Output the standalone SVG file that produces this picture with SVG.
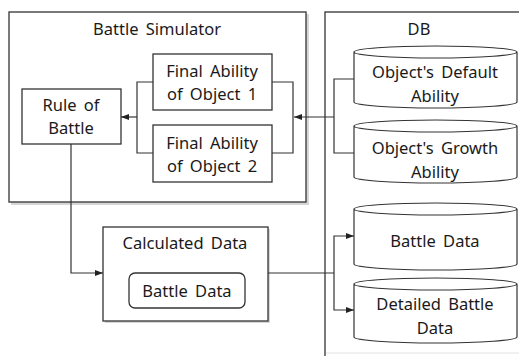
<svg xmlns="http://www.w3.org/2000/svg" width="519" height="356" viewBox="0 0 519 356">
<defs>
<style>
.box{fill:#fff;stroke:#333;stroke-width:1.3}
.sh{fill:#d6d6d6}
.cyl{fill:#fff;stroke:#333;stroke-width:1.2}
.ln{fill:none;stroke:#333;stroke-width:1.2}
text{font-family:"Noto Sans","Liberation Sans",sans-serif;font-size:16.5px;fill:#1a1a1a;text-anchor:middle;word-spacing:3px}
</style>
<marker id="ah" viewBox="0 0 8 8" refX="8" refY="4" markerWidth="8" markerHeight="8" markerUnits="userSpaceOnUse" orient="auto">
<path d="M0,1 L8,4 L0,7 Z" fill="#222"/>
</marker>
</defs>
<rect width="519" height="356" fill="#fff"/>

<g id="battle-simulator">
<rect class="sh" x="11" y="14" width="298" height="191"/>
<rect class="box" x="9" y="12" width="297" height="190"/>
<text x="157" y="35">Battle Simulator</text>
</g>

<g id="db">
<rect class="sh" x="327" y="14" width="200" height="350"/>
<rect class="box" x="325" y="12" width="200" height="352"/>
<line x1="326" y1="353" x2="519" y2="353" stroke="#e2e2e2" stroke-width="1"/>
<text x="419" y="35">DB</text>
</g>

<g id="rule-of-battle">
<rect class="box" x="22" y="89" width="99" height="55"/>
<text x="71" y="111">Rule of</text>
<text x="71" y="134">Battle</text>
</g>

<g id="final-ability-1">
<rect class="box" x="153" y="54" width="119" height="56"/>
<text x="212" y="77">Final Ability</text>
<text x="212" y="100">of Object 1</text>
</g>

<g id="final-ability-2">
<rect class="box" x="153" y="125" width="119" height="57"/>
<text x="212" y="149">Final Ability</text>
<text x="212" y="172">of Object 2</text>
</g>

<g id="default-ability">
<path class="cyl" d="M354,52 A81.5,6 0 0 1 517,52 V102 A81.5,6 0 0 1 354,102 Z M354,52 A81.5,6 0 0 0 517,52"/>
<text x="435" y="78">Object's Default</text>
<text x="435" y="102">Ability</text>
</g>

<g id="growth-ability">
<path class="cyl" d="M354,126 A81.5,6 0 0 1 517,126 V177 A81.5,6 0 0 1 354,177 Z M354,126 A81.5,6 0 0 0 517,126"/>
<text x="435" y="154">Object's Growth</text>
<text x="435" y="178">Ability</text>
</g>

<g id="battle-data-db">
<path class="cyl" d="M354,209 A81.5,6 0 0 1 517,209 V264 A81.5,6 0 0 1 354,264 Z M354,209 A81.5,6 0 0 0 517,209"/>
<text x="435" y="247">Battle Data</text>
</g>

<g id="detailed-battle-data">
<path class="cyl" d="M354,284 A81.5,6 0 0 1 517,284 V337 A81.5,6 0 0 1 354,337 Z M354,284 A81.5,6 0 0 0 517,284"/>
<text x="435" y="310">Detailed Battle</text>
<text x="435" y="334">Data</text>
</g>

<g id="calculated-data">
<rect class="sh" x="105" y="229" width="165" height="94"/>
<rect class="box" x="103" y="227" width="165" height="94"/>
<text x="185" y="249">Calculated Data</text>
<rect class="box" x="129" y="273" width="116" height="35" rx="6"/>
<text x="187" y="297">Battle Data</text>
</g>

<g id="connectors">
<path class="ln" d="M153,82 H137 V153 H153"/>
<path class="ln" d="M137,117 H121" marker-end="url(#ah)"/>
<path class="ln" d="M272,82 H293 V153 H272"/>
<path class="ln" d="M354,79 H334 V153 H354"/>
<path class="ln" d="M334,117 H294" marker-end="url(#ah)"/>
<path class="ln" d="M71,144 V273 H103" marker-end="url(#ah)"/>
<path class="ln" d="M268,273 H334"/>
<path class="ln" d="M334,273 V236 H354" marker-end="url(#ah)"/>
<path class="ln" d="M334,273 V310 H354" marker-end="url(#ah)"/>
</g>
</svg>
